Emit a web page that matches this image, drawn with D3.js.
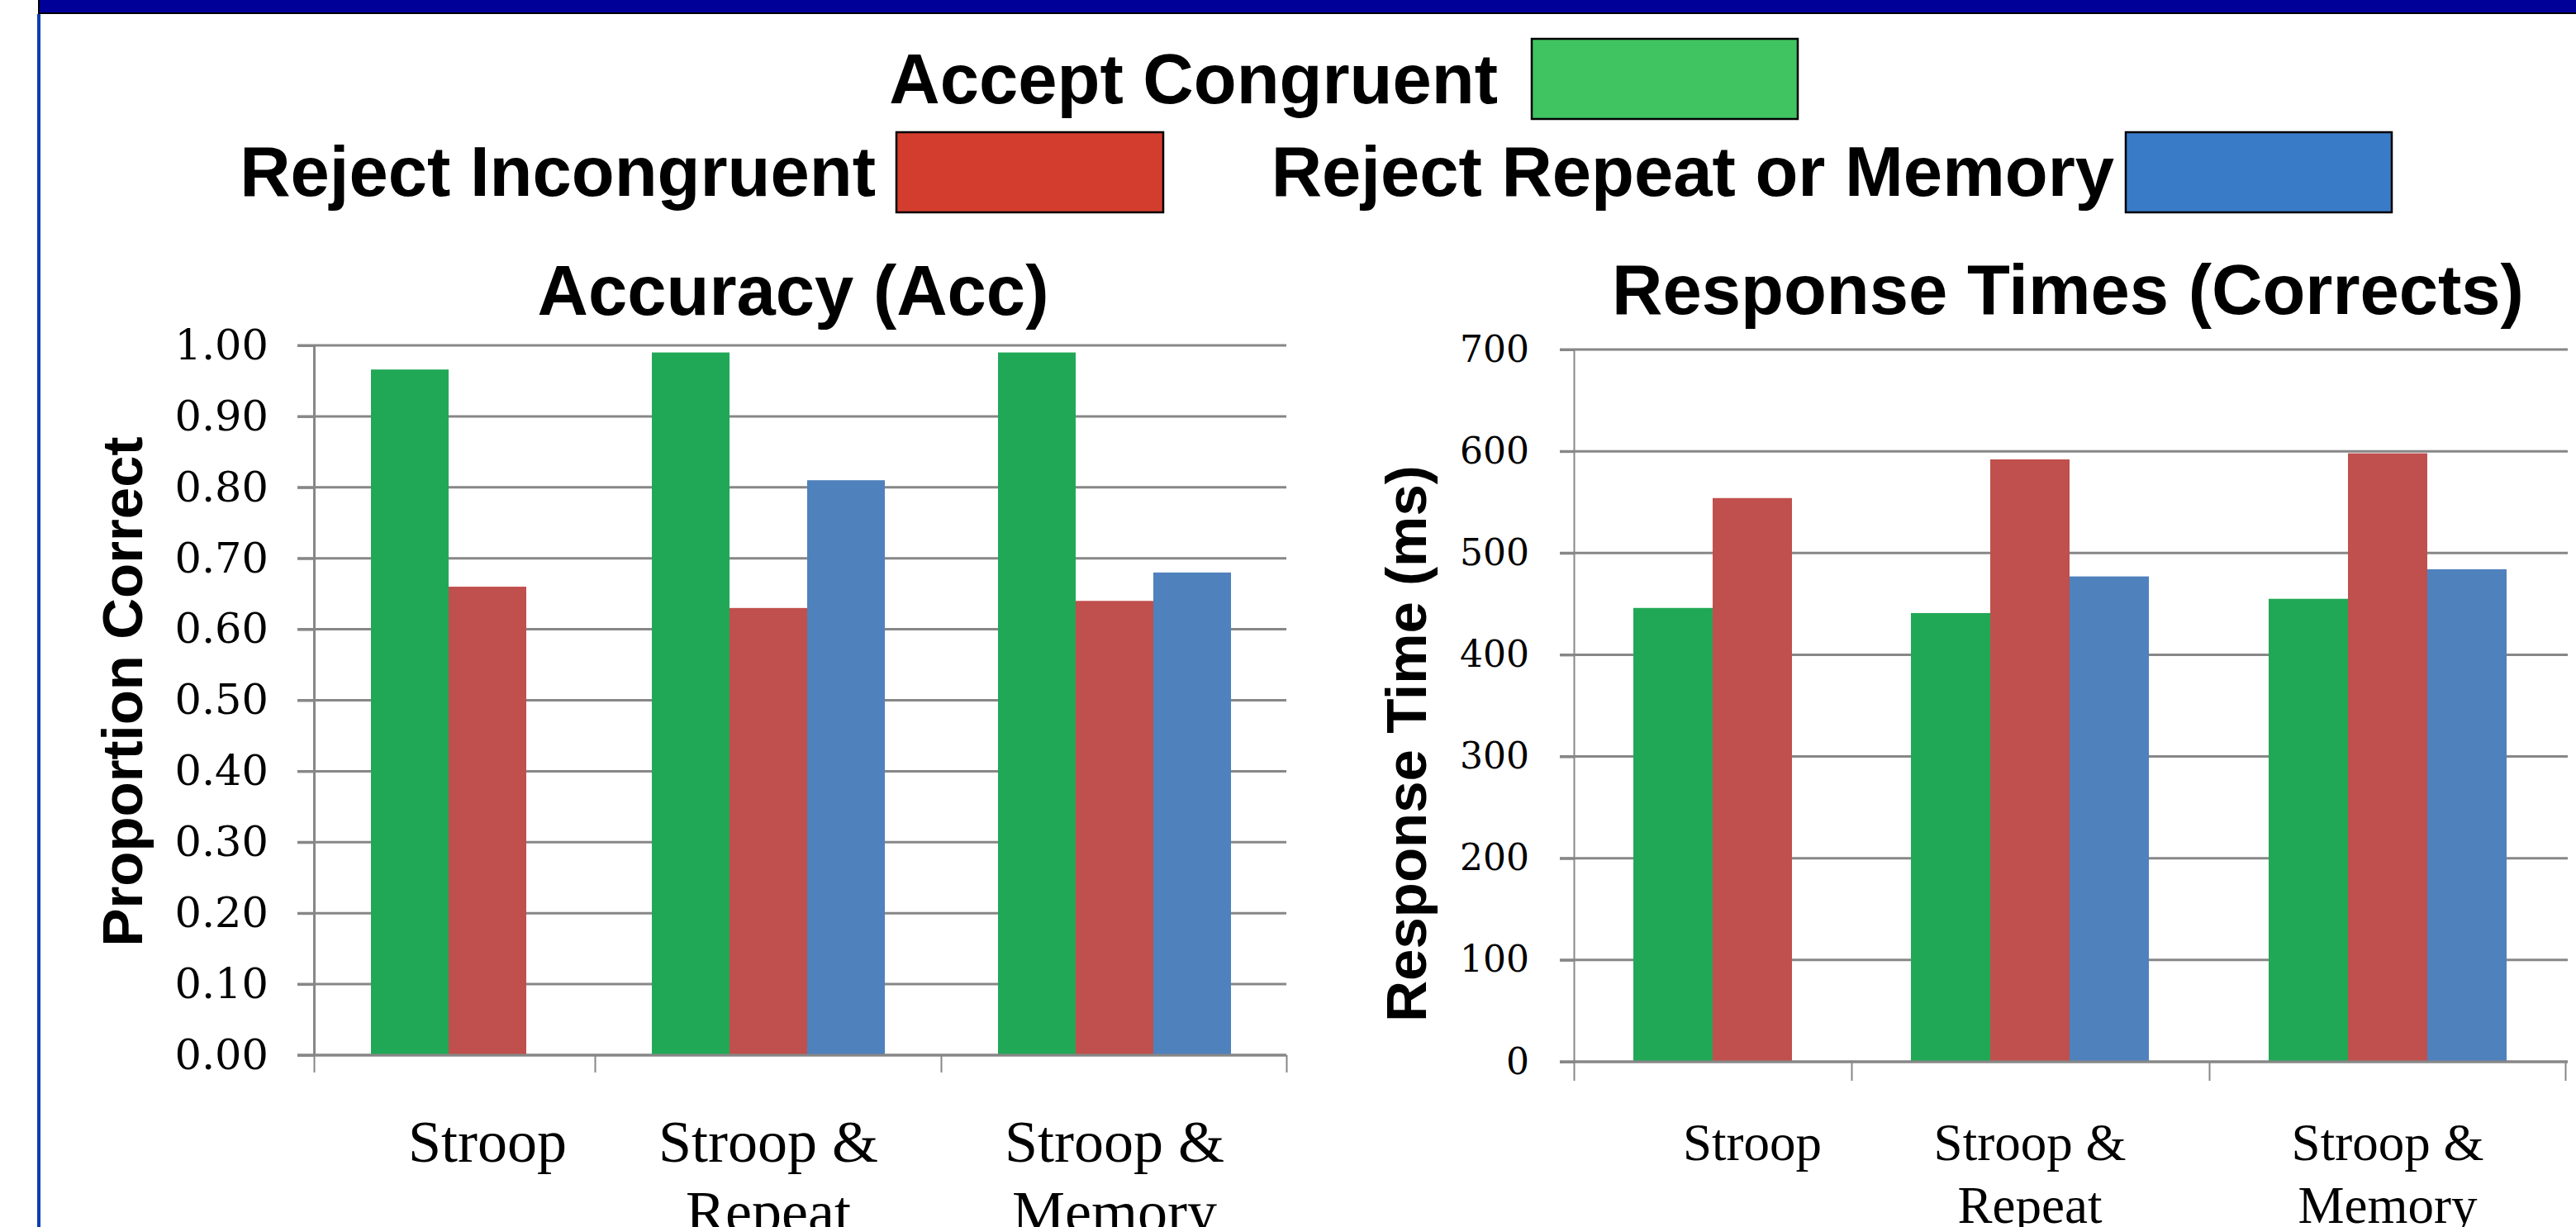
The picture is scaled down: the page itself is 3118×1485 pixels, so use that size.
<!DOCTYPE html>
<html><head><meta charset="utf-8">
<script src="https://cdn.jsdelivr.net/npm/d3@7"></script>
<style>html,body{margin:0;padding:0;background:#fff;overflow:hidden} svg{display:block}</style>
</head><body>
<script>
// ---------- DATA ----------
const categories = ["Stroop", "Stroop & Repeat", "Stroop & Memory"];
const categoryLabelLines = [["Stroop"], ["Stroop &", "Repeat"], ["Stroop &", "Memory"]];
const seriesNames = ["Accept Congruent", "Reject Incongruent", "Reject Repeat or Memory"];

const accAcceptCongruent   = [0.966, 0.99, 0.99];
const accRejectIncongruent = [0.66, 0.63, 0.64];
const accRejectRepeatMem   = [null, 0.81, 0.68];

const rtAcceptCongruent    = [446, 441, 455];
const rtRejectIncongruent  = [554, 592, 598];
const rtRejectRepeatMem    = [null, 477, 484];

const accTicks      = [0, 0.1, 0.2, 0.3, 0.4, 0.5, 0.6, 0.7, 0.8, 0.9, 1.0];
const accTickLabels = ["0.00","0.10","0.20","0.30","0.40","0.50","0.60","0.70","0.80","0.90","1.00"];
const rtTicks       = [0, 100, 200, 300, 400, 500, 600, 700];
const rtTickLabels  = ["0","100","200","300","400","500","600","700"];

const barColors    = ["#21a857", "#c0504d", "#4f81bd"];
const legendColors = ["#40c462", "#d33d2e", "#3a7bc8"];

// ---------- LAYOUT ----------
const W = 3118, H = 1485;
const svg = d3.select("body").append("svg").attr("width", W).attr("height", H);
svg.append("rect").attr("width", W).attr("height", H).attr("fill", "#fff");

// frame: top bar + left border
svg.append("rect").attr("x", 46).attr("y", 0).attr("width", W - 46).attr("height", 17).attr("fill", "#000");
svg.append("rect").attr("x", 48).attr("y", 0).attr("width", W - 48).attr("height", 15).attr("fill", "#000099");
svg.append("rect").attr("x", 45).attr("y", 17).attr("width", 4).attr("height", H - 17).attr("fill", "#0b3eb0");

// legend
const legendLayout = [
  {textEnd: 1813, base: 125, sx: 1854, sy: 47, sw: 322, sh: 97},
  {textEnd: 1060, base: 237, sx: 1085, sy: 160, sw: 323, sh: 97},
  {textEnd: 2559, base: 237, sx: 2573, sy: 160, sw: 322, sh: 97}
];
const lg = svg.append("g").selectAll("g").data(seriesNames).join("g");
lg.append("text")
  .attr("x", (d, i) => legendLayout[i].textEnd)
  .attr("y", (d, i) => legendLayout[i].base)
  .attr("text-anchor", "end")
  .attr("font-family", "'Liberation Sans', Arial, sans-serif")
  .attr("font-weight", "bold").attr("font-size", 85).attr("fill", "#000")
  .text(d => d);
lg.append("rect")
  .attr("x", (d, i) => legendLayout[i].sx)
  .attr("y", (d, i) => legendLayout[i].sy)
  .attr("width", (d, i) => legendLayout[i].sw)
  .attr("height", (d, i) => legendLayout[i].sh)
  .attr("fill", (d, i) => legendColors[i])
  .attr("stroke", "#000").attr("stroke-width", 2.5);

// ---------- CHARTS ----------
const charts = [
  {
    title: "Accuracy (Acc)", yTitle: "Proportion Correct",
    series: [accAcceptCongruent, accRejectIncongruent, accRejectRepeatMem],
    ticks: accTicks, tickLabels: accTickLabels, domain: [0, 1],
    yRange: [1277, 418], xBounds: [380, 720, 1139, 1557],
    gridLeft: 360, gridRight: 1557, groupOffset: 69, bw: 94,
    tickFont: 51, tickLabelEnd: 325, labelFont: 72, labelBase: [1406, 1491], labelShift: 0,
    yAxisW: 3, titleX: 960, titleY: 381, yTitleX: 172, yTitleY: 837, xTick: 21
  },
  {
    title: "Response Times (Corrects)", yTitle: "Response Time (ms)",
    series: [rtAcceptCongruent, rtRejectIncongruent, rtRejectRepeatMem],
    ticks: rtTicks, tickLabels: rtTickLabels, domain: [0, 700],
    yRange: [1285, 423], xBounds: [1905, 2241, 2674, 3105],
    gridLeft: 1888, gridRight: 3108, groupOffset: 72, bw: 96,
    tickFont: 44, tickLabelEnd: 1851, labelFont: 63, labelBase: [1404, 1480], labelShift: 0,
    yAxisW: 2, titleX: 2503, titleY: 380, yTitleX: 1726, yTitleY: 900, xTick: 23
  }
];

charts.forEach(c => {
  const g = svg.append("g");
  const y = d3.scaleLinear().domain(c.domain).range(c.yRange);
  const xb = d3.scaleLinear().domain([0, 1, 2, 3]).range(c.xBounds);
  const xs = d3.scaleBand().domain(d3.range(3)).range([0, 3 * c.bw]).padding(0);
  const axisX = c.xBounds[0];

  // gridlines
  g.append("g").selectAll("line").data(c.ticks).join("line")
    .attr("x1", c.gridLeft).attr("x2", c.gridRight)
    .attr("y1", d => y(d)).attr("y2", d => y(d))
    .attr("stroke", "#878787").attr("stroke-width", 3);

  // x category ticks
  const xAxis = d3.axisBottom(xb).tickValues([0, 1, 2, 3]).tickFormat("").tickSize(c.xTick).tickSizeOuter(0);
  const xg = g.append("g").attr("transform", `translate(0,${y(0)})`).call(xAxis);
  xg.select(".domain").remove();
  xg.selectAll(".tick line").attr("stroke", "#878787").attr("stroke-width", 2);

  // y axis
  const tickSize = axisX - c.gridLeft;
  const yAxis = d3.axisLeft(y).tickValues(c.ticks)
    .tickFormat((d, i) => c.tickLabels[i])
    .tickSize(tickSize).tickPadding(axisX - tickSize - c.tickLabelEnd).tickSizeOuter(0);
  const yg = g.append("g").attr("transform", `translate(${axisX},0)`).call(yAxis);
  yg.select(".domain").attr("stroke", "#878787").attr("stroke-width", c.yAxisW);
  yg.selectAll(".tick line").attr("stroke", "#878787").attr("stroke-width", 3);
  yg.selectAll(".tick text")
    .attr("font-family", "'DejaVu Serif', serif").attr("font-size", c.tickFont).attr("fill", "#000");

  // bars
  c.series.forEach((vals, s) => {
    g.append("g").selectAll("rect")
      .data(vals.map((v, i) => ({v, i})).filter(d => d.v != null))
      .join("rect")
      .attr("x", d => xb(d.i) + c.groupOffset + xs(s))
      .attr("width", xs.bandwidth())
      .attr("y", d => y(d.v))
      .attr("height", d => y(0) - y(d.v))
      .attr("fill", barColors[s]);
  });

  // redraw baseline on top
  g.append("line").attr("x1", c.gridLeft).attr("x2", c.gridRight)
    .attr("y1", y(0)).attr("y2", y(0)).attr("stroke", "#878787").attr("stroke-width", 3);

  // category labels
  const lab = g.append("g").selectAll("text").data(categories).join("text")
    .attr("text-anchor", "middle")
    .attr("font-family", "'Liberation Serif', 'Times New Roman', serif")
    .attr("font-size", c.labelFont).attr("fill", "#000")
    .attr("transform", (d, i) => `translate(${xb(i) + c.groupOffset + 1.5 * c.bw + c.labelShift},0)`);
  lab.selectAll("tspan").data((d, i) => categoryLabelLines[i]).join("tspan")
    .attr("x", 0).attr("y", (d, j) => c.labelBase[j]).text(d => d);

  // title
  g.append("text").attr("x", c.titleX).attr("y", c.titleY).attr("text-anchor", "middle")
    .attr("font-family", "'Liberation Sans', Arial, sans-serif").attr("font-weight", "bold")
    .attr("font-size", 85).attr("fill", "#000").text(c.title);

  // y title
  g.append("text").attr("transform", `translate(${c.yTitleX},${c.yTitleY}) rotate(-90)`)
    .attr("text-anchor", "middle")
    .attr("font-family", "'Liberation Sans', Arial, sans-serif").attr("font-weight", "bold")
    .attr("font-size", 69).attr("fill", "#000").text(c.yTitle);
});
</script>
</body></html>
